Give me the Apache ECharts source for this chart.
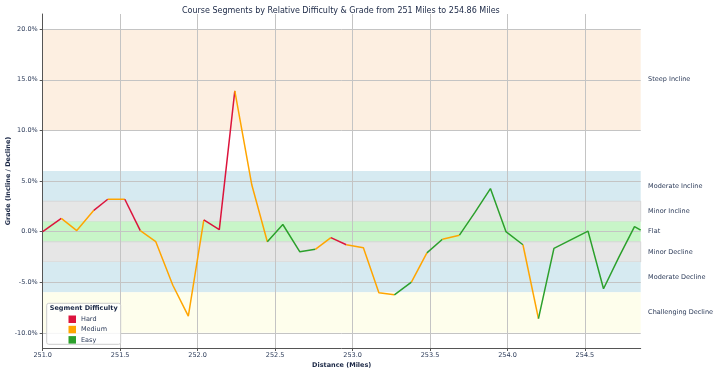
<!DOCTYPE html>
<html><head><meta charset="utf-8">
<script src="https://cdn.jsdelivr.net/npm/echarts@6/dist/echarts.min.js"></script>
<style>html,body{margin:0;padding:0;background:#fff}#c{width:720px;height:374px}</style>
</head><body><div id="c"></div>
<script>
// ---- data ----
const distances = [251.00, 251.12, 251.22, 251.33, 251.42, 251.53, 251.63, 251.73, 251.84, 251.94,
  252.04, 252.14, 252.24, 252.35, 252.45, 252.55, 252.66, 252.76, 252.86, 252.96,
  253.07, 253.17, 253.27, 253.38, 253.48, 253.58, 253.69, 253.79, 253.89, 253.99,
  254.10, 254.20, 254.30, 254.52, 254.62, 254.72, 254.82, 254.86];
const grades = [0.0, 1.3, 0.1, 2.1, 3.2, 3.2, 0.1, -1.0, -5.3, -8.35,
  1.15, 0.2, 13.9, 4.6, -1.0, 0.7, -2.0, -1.75, -0.6, -1.3,
  -1.6, -6.05, -6.25, -5.0, -2.1, -0.75, -0.35, 1.9, 4.25, 0.0,
  -1.3, -8.6, -1.65, 0.05, -5.65, -2.5, 0.5, 0.15];
// difficulty of the segment that starts at each point (one fewer than points)
const segmentDifficulty = ['Hard','Medium','Medium','Hard','Medium','Hard','Medium','Medium','Medium','Medium',
  'Hard','Hard','Medium','Medium','Easy','Easy','Easy','Medium','Hard','Medium',
  'Medium','Medium','Easy','Medium','Easy','Medium','Easy','Easy','Easy','Easy',
  'Medium','Easy','Easy','Easy','Easy','Easy','Easy'];
const difficultyNames = ['Hard','Medium','Easy'];
const difficultyColors = {Hard:'#dc143c', Medium:'#ffa500', Easy:'#2ca02c'};

const bandNames = ['Steep Incline','Moderate Incline','Minor Incline','Flat','Minor Decline','Moderate Decline','Challenging Decline'];
const bandLow   = [10, 3, 1, -1, -3, -6, -10];
const bandHigh  = [20, 6, 3, 1, -1, -3, -6];
const bandColors = ['#fdefe1','#d6eaf1','#e6e6e6','#c8f5c8','#e6e6e6','#d6eaf1','#fefeec'];

const xTicks = [251.0, 251.5, 252.0, 252.5, 253.0, 253.5, 254.0, 254.5];
const yTicks = [-10, -5, 0, 5, 10, 15, 20];
const xMin = 251, xMax = 254.86, yMin = -11.5, yMax = 21.5;

// ---- build ----
const textColor = '#2b3a58';
const titleColor = '#1a2745';
const gridColor = '#c4c4c4';

const runs = [];
let cur = null;
for (let i = 0; i < segmentDifficulty.length; i++) {
  const d = segmentDifficulty[i];
  if (!cur || cur.name !== d) {
    cur = {name: d, pts: [[distances[i], grades[i]]]};
    runs.push(cur);
  }
  cur.pts.push([distances[i + 1], grades[i + 1]]);
}

const bandData = bandNames.map((n, i) => [
  {xAxis: xMin, yAxis: bandLow[i], name: n,
   itemStyle: {color: bandColors[i], borderColor: bandColors[i] === '#e6e6e6' ? '#d0d0d0' : 'transparent', borderWidth: 0.8}},
  {xAxis: xMax, yAxis: bandHigh[i]}
]);

const series = runs.map((r, k) => ({
  type: 'line', name: r.name, data: r.pts, showSymbol: false, symbol: 'none',
  color: difficultyColors[r.name],
  lineStyle: {color: difficultyColors[r.name], width: 1.5},
  z: 5, silent: true, animation: false
}));
series.push({
  type: 'line', name: '_bands', data: [], silent: true, animation: false, z: 1,
  markArea: {
    silent: true, z: 1,
    label: {show: true, position: 'right', distance: 7, fontSize: 6.5, color: textColor, fontFamily: 'DejaVu Sans'},
    data: bandData
  }
});

const chart = echarts.init(document.getElementById('c'), null, {renderer: 'canvas'});
chart.setOption({
  animation: false,
  textStyle: {fontFamily: 'DejaVu Sans'},
  title: {
    text: 'Course Segments by Relative Difficulty & Grade from 251 Miles to 254.86 Miles',
    left: 177, top: 2,
    textStyle: {fontSize: 8, fontWeight: 'normal', color: titleColor, fontFamily: 'DejaVu Sans'}
  },
  grid: {left: 42.7, right: 79.3, top: 14, bottom: 26, containLabel: false, outerBoundsMode: 'none'},
  xAxis: {
    type: 'value', min: xMin, max: xMax, z: 3,
    name: 'Distance (Miles)', nameLocation: 'middle', nameGap: 14, nameMoveOverlap: false,
    nameTextStyle: {fontSize: 6.5, fontWeight: 'bold', color: titleColor},
    axisLine: {show: true, onZero: false, lineStyle: {color: '#555', width: 1}},
    axisTick: {show: true, length: 3, lineStyle: {color: '#555'}, customValues: xTicks},
    axisLabel: {fontSize: 6.5, color: textColor, margin: 4, customValues: xTicks,
      formatter: v => v.toFixed(1)},
    splitLine: {show: true, lineStyle: {color: gridColor, width: 1}}
  },
  yAxis: {
    type: 'value', min: yMin, max: yMax, z: 3,
    name: 'Grade (Incline / Decline)', nameLocation: 'middle', nameGap: 31, nameMoveOverlap: false,
    nameTextStyle: {fontSize: 6.5, fontWeight: 'bold', color: titleColor},
    axisLine: {show: true, onZero: false, lineStyle: {color: '#555', width: 1}},
    axisTick: {show: true, length: 3, lineStyle: {color: '#555'}, customValues: yTicks},
    axisLabel: {fontSize: 6.5, color: textColor, margin: 5, customValues: yTicks,
      formatter: v => v.toFixed(1) + '%'},
    splitLine: {show: true, lineStyle: {color: gridColor, width: 1}}
  },
  legend: {
    data: difficultyNames, orient: 'vertical', left: 63.5, top: 310.5,
    icon: 'rect', itemWidth: 7.5, itemHeight: 7.5, itemGap: 2.8, z: 20,
    textStyle: {fontSize: 6.5, color: textColor, padding: [0, 0, 0, 0]},
    selectedMode: false
  },
  graphic: [
    {type: 'rect', z: 15, shape: {x: 46.7, y: 303.3, width: 74, height: 41, r: 2},
     style: {fill: 'rgba(255,255,255,0.85)', stroke: '#cccccc', lineWidth: 1}},
    {type: 'text', z: 16, x: 83.7, y: 308.5,
     style: {text: 'Segment Difficulty', fontSize: 6.5, fontWeight: 'bold', fill: titleColor,
       align: 'center', verticalAlign: 'middle', fontFamily: 'DejaVu Sans'}}
  ],
  series: series
});
</script></body></html>
